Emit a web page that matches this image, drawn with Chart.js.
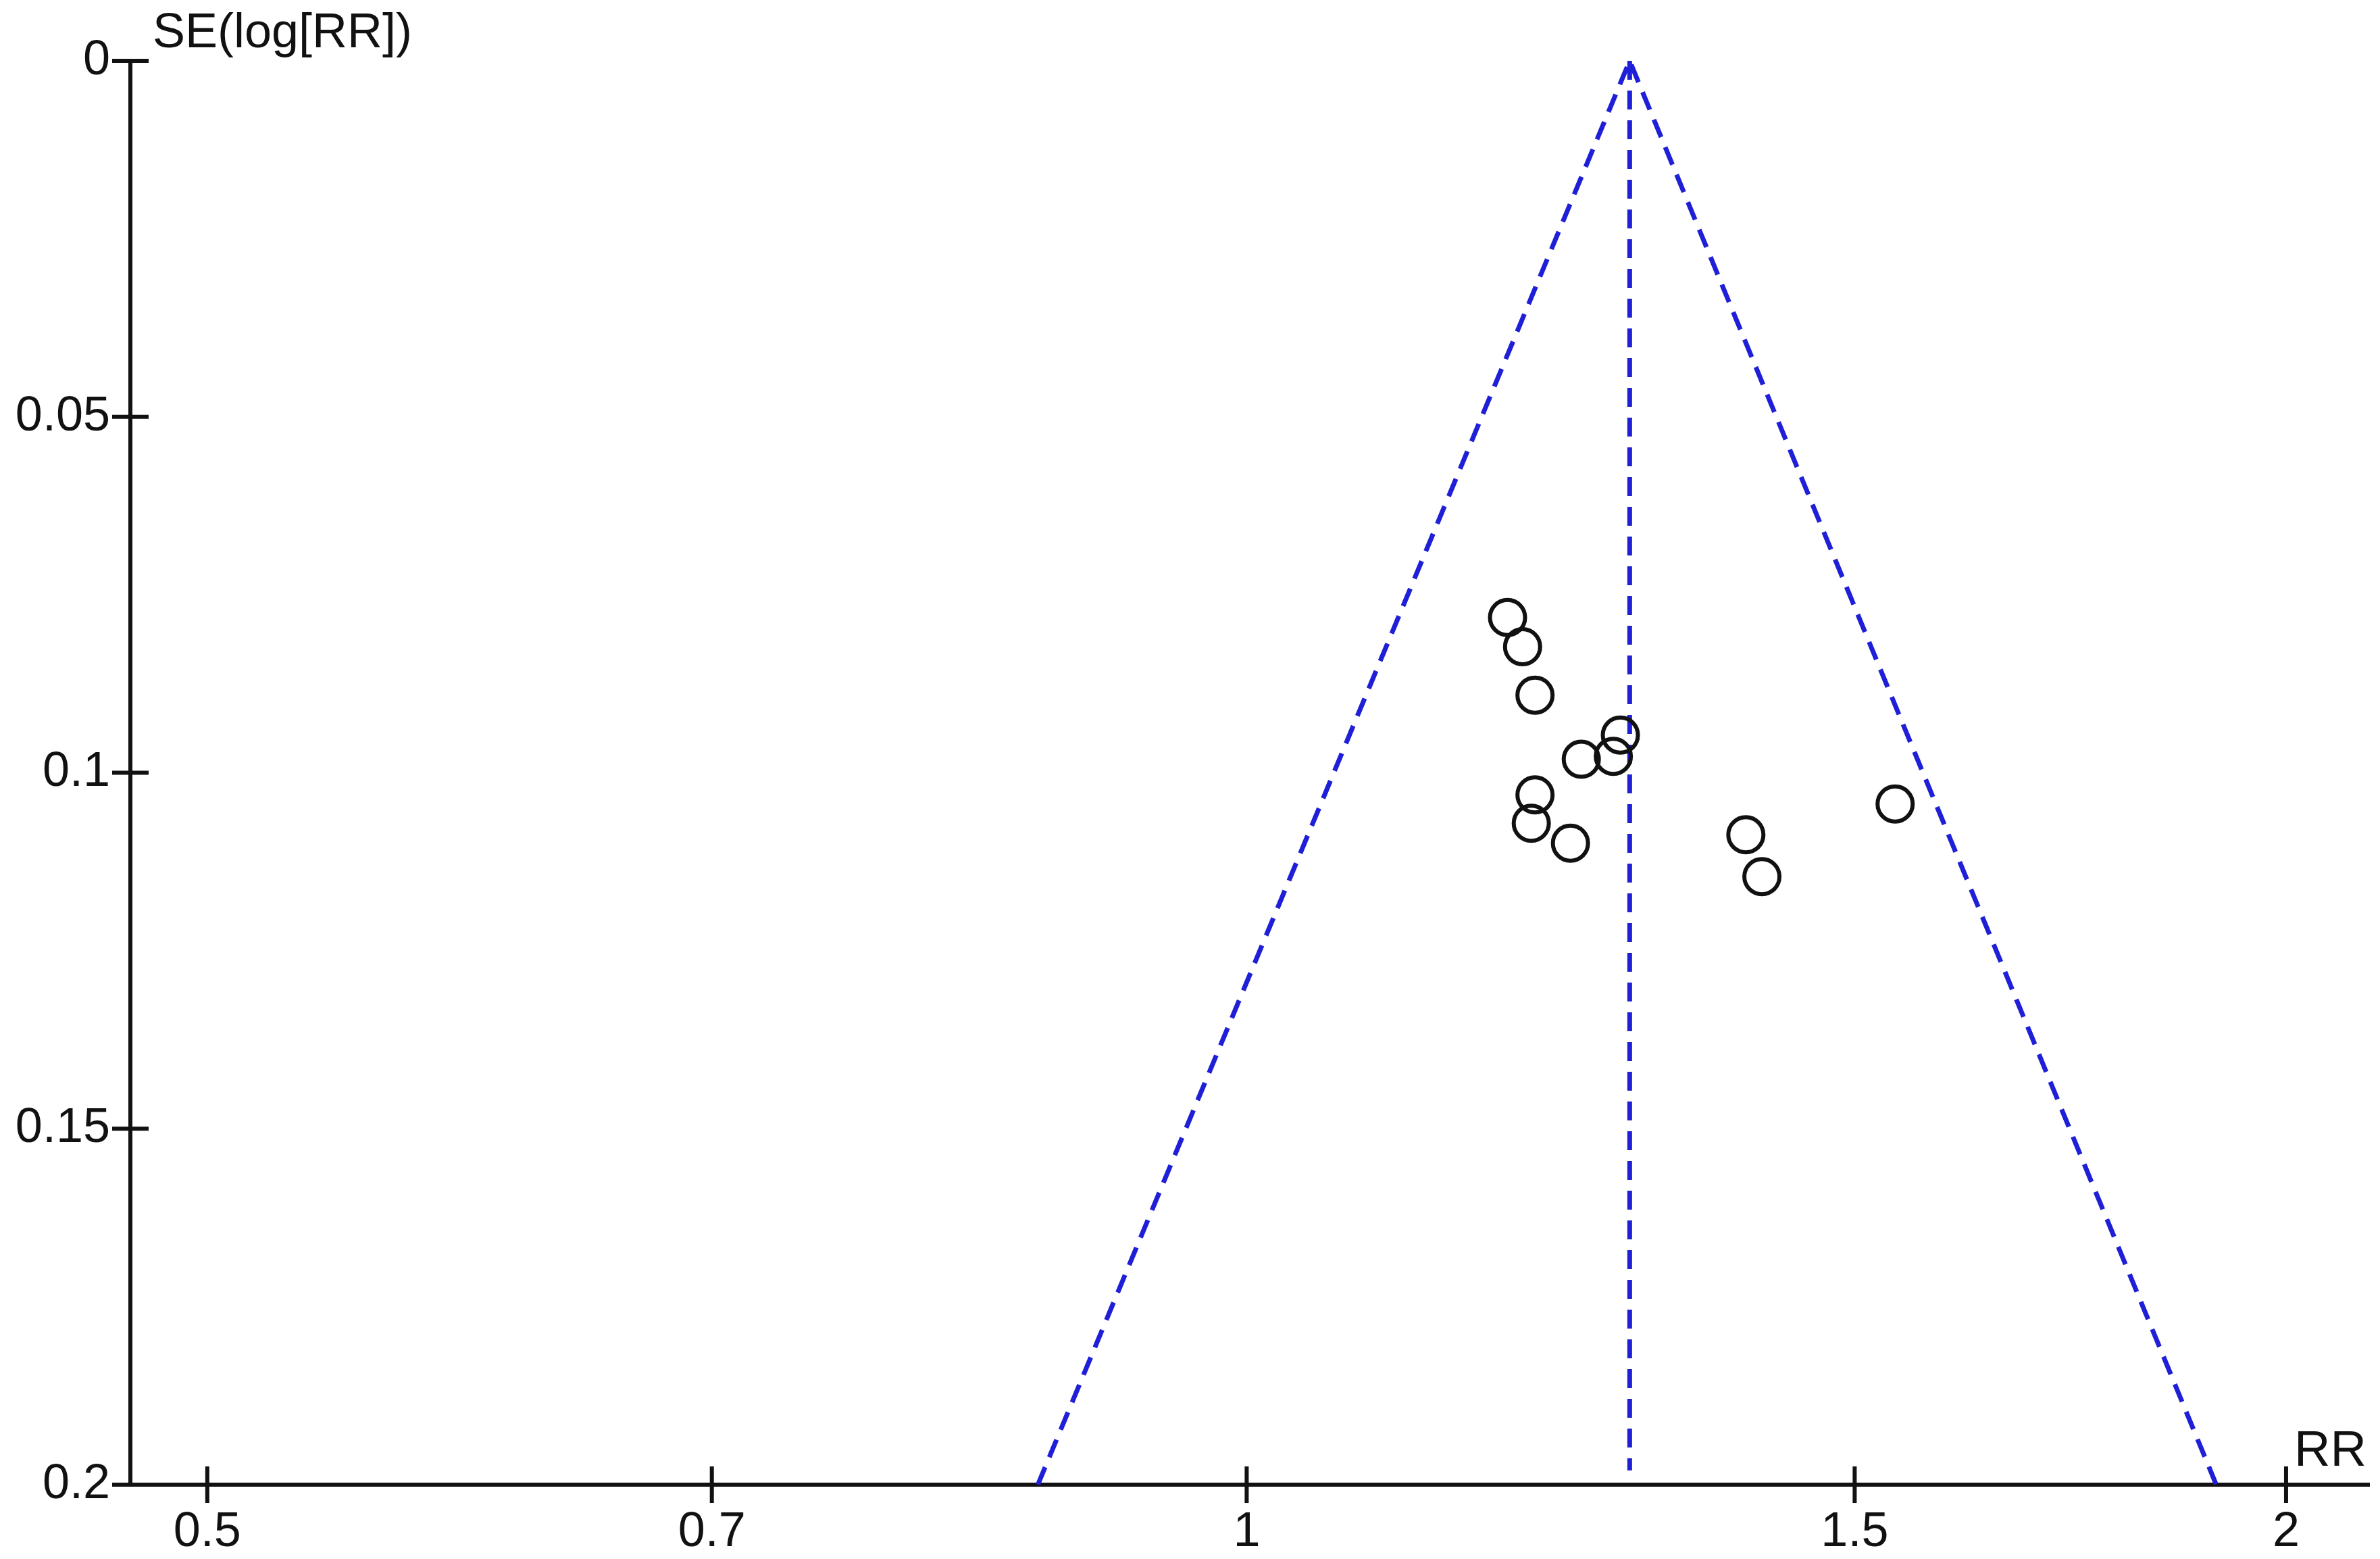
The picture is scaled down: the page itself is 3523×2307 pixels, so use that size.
<!DOCTYPE html>
<html>
<head>
<meta charset="utf-8">
<script src="https://cdn.jsdelivr.net/npm/chart.js@4.4.1/dist/chart.umd.min.js"></script>
<style>
  html, body { margin: 0; padding: 0; background: #fff; overflow: hidden; }
  #wrap { width: 3523px; height: 2307px; position: relative; }
</style>
</head>
<body>
<div id="wrap"><canvas id="funnel"></canvas></div>
<script>
// Study estimates (RR) and standard errors of log RR
const studyRR = [1.190, 1.202, 1.212, 1.283, 1.277, 1.250, 1.212, 1.209, 1.241, 1.395, 1.410, 1.541];
const studySE = [0.0782, 0.0823, 0.0891, 0.0947, 0.0977, 0.0981, 0.1031, 0.1071, 0.1099, 0.1087, 0.1146, 0.1044];

// Pseudo 95% limits (funnel edges) and the pooled estimate line
const funnelRR = [0.870, 1.291, 1.909];
const funnelSE = [0.2, 0, 0.2];
const pooledRR = [1.291, 1.291];
const pooledSE = [0, 0.198];

// Axis ticks
const xTicks = [0.5, 0.7, 1, 1.5, 2];
const xTickLabels = ['0.5', '0.7', '1', '1.5', '2'];
const yTicks = [0, 0.05, 0.1, 0.15, 0.2];
const yTickLabels = ['0', '0.05', '0.1', '0.15', '0.2'];

const ink = '#111';
const blue = '#1f1fd8';
const TICK = 27; // half length of the tick marks, drawn across the axes

const toPoints = (xs, ys) => xs.map((v, i) => ({ x: v, y: ys[i] }));

// Tick marks crossing the axes + the two axis titles
const axisDecor = {
    id: 'axisDecor',
    afterDraw(chart) {
        const { ctx, scales: { x, y } } = chart;
        ctx.save();
        ctx.strokeStyle = ink;
        ctx.lineWidth = 6;
        ctx.beginPath();
        x.ticks.forEach(t => {
            const px = x.getPixelForValue(t.value);
            ctx.moveTo(px, x.top - TICK);
            ctx.lineTo(px, x.top + TICK);
        });
        y.ticks.forEach(t => {
            const py = y.getPixelForValue(t.value);
            ctx.moveTo(y.right - TICK, py);
            ctx.lineTo(y.right + TICK, py);
        });
        ctx.stroke();

        ctx.fillStyle = ink;
        ctx.textAlign = 'left';
        ctx.textBaseline = 'alphabetic';
        ctx.font = '72px "Liberation Sans", Arial, sans-serif';
        ctx.fillText('SE(log[RR])', y.right + 33, 70);
        ctx.font = '74px "Liberation Sans", Arial, sans-serif';
        ctx.fillText('RR', x.getPixelForValue(2) + 12, x.top - TICK - 1);
        ctx.restore();
    }
};

const ctx = document.getElementById('funnel').getContext('2d');

new Chart(ctx, {
    type: 'scatter',
    data: {
        datasets: [
            {
                label: 'Studies',
                data: toPoints(studyRR, studySE),
                showLine: false,
                pointStyle: 'circle',
                pointRadius: 26,
                pointBorderWidth: 6,
                pointBorderColor: ink,
                pointBackgroundColor: 'rgba(0,0,0,0)'
            },
            {
                label: 'Pooled',
                data: toPoints(pooledRR, pooledSE),
                showLine: true,
                pointRadius: 0,
                borderColor: blue,
                borderWidth: 7,
                borderDash: [28, 16]
            },
            {
                label: 'Funnel',
                data: toPoints(funnelRR, funnelSE),
                showLine: true,
                pointRadius: 0,
                borderColor: blue,
                borderWidth: 7,
                borderDash: [28, 16],
                tension: 0
            }
        ]
    },
    options: {
        responsive: true,
        maintainAspectRatio: false,
        animation: false,
        layout: { autoPadding: false, padding: { top: 90, right: 16, left: 0, bottom: 0 } },
        plugins: {
            legend: { display: false },
            tooltip: { enabled: false }
        },
        scales: {
            x: {
                type: 'logarithmic',
                min: 0.475,
                max: 2.114,
                bounds: 'data',
                grid: { display: false, drawTicks: false },
                border: { display: true, color: ink, width: 6 },
                afterBuildTicks: s => { s.ticks = xTicks.map(v => ({ value: v })); },
                afterFit: s => { s.height = 110; },
                ticks: {
                    autoSkip: false,
                    maxRotation: 0,
                    padding: 28,
                    color: ink,
                    font: { family: '"Liberation Sans", Arial, sans-serif', size: 72 },
                    callback: (v, i) => xTickLabels[i]
                }
            },
            y: {
                type: 'linear',
                reverse: true,
                min: 0,
                max: 0.2,
                grid: { display: false, drawTicks: false },
                border: { display: true, color: ink, width: 6 },
                afterBuildTicks: s => { s.ticks = yTicks.map(v => ({ value: v })); },
                afterFit: s => { s.width = 193; },
                ticks: {
                    padding: 30,
                    color: ink,
                    font: { family: '"Liberation Sans", Arial, sans-serif', size: 72 },
                    callback: (v, i) => yTickLabels[i]
                }
            }
        }
    },
    plugins: [axisDecor]
});
</script>
</body>
</html>
